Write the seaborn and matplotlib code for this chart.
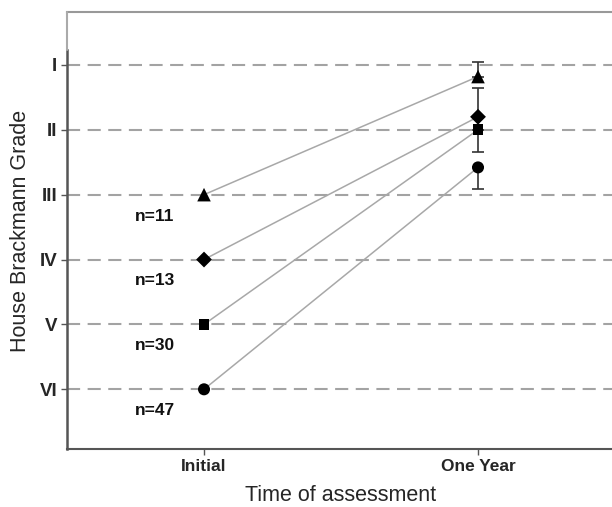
import pandas as pd
import seaborn as sns
import matplotlib.pyplot as plt

# data
times = ['Initial', 'One Year']
groups = ['n=11', 'n=13', 'n=30', 'n=47']
initial_grade = [3.0, 4.0, 5.0, 6.0]
one_year_grade = [1.18, 1.80, 2.00, 2.58]
err_better = [0.22, 0.45, 0.0, 0.0]   # towards grade I (up)
err_worse = [0.0, 0.0, 0.35, 0.34]    # towards grade VI (down)
grade_labels = ['I', 'II', 'III', 'IV', 'V', 'VI']
marker_map = {'n=11': '^', 'n=13': 'D', 'n=30': 's', 'n=47': 'o'}
marker_size = {'n=11': 95, 'n=13': 65, 'n=30': 60, 'n=47': 75}

rows = []
for g, a, b in zip(groups, initial_grade, one_year_grade):
    rows.append({'group': g, 'time': 0, 'grade': a})
    rows.append({'group': g, 'time': 1, 'grade': b})
df = pd.DataFrame(rows)

sns.set_theme(style='white')
plt.rcParams['font.family'] = ['Liberation Sans', 'DejaVu Sans']

fig = plt.figure(figsize=(6.12, 5.07), dpi=100)
ax = fig.add_axes([0.1095, 0.1144, 0.8954, 0.8619])

# connecting lines
sns.lineplot(data=df, x='time', y='grade', units='group', estimator=None,
             color='#a8a8a8', linewidth=1.1, ax=ax, zorder=2)

# error bars at one year (y axis is inverted, so "minus" points up)
ax.errorbar([1] * len(groups), one_year_grade, yerr=[err_better, err_worse],
            fmt='none', ecolor='#333333', elinewidth=1.2, capsize=4,
            capthick=1.2, zorder=3)

# markers
sns.scatterplot(data=df, x='time', y='grade', style='group', markers=marker_map,
                size='group', sizes=marker_size, color='black',
                edgecolor='black', linewidth=0, legend=False, ax=ax, zorder=4)

# n labels below the initial points
for g, a in zip(groups, initial_grade):
    ax.text(-0.18, a + 0.33, g, ha='center', va='center', fontsize=12.5,
            fontweight='bold', color='#111111')

ax.set_xlim(-0.5, 1.5)
ax.set_ylim(6.92, 0.185)
ax.set_xticks([0, 1])
ax.set_xticklabels(times, fontsize=12.5, fontweight='bold')
ax.set_yticks(range(1, 7))
ax.set_yticklabels(grade_labels, fontsize=13.5, fontweight='bold')
ax.tick_params(axis='both', direction='out', length=4, width=1,
               color='#555555', pad=3, left=True, bottom=True)

ax.yaxis.grid(True, linestyle=(0, (6.3, 3.6)), linewidth=1.5, color='#a3a3a3')
ax.set_axisbelow(True)

ax.set_xlabel('Time of assessment', fontsize=15.5, labelpad=8)
ax.set_ylabel('House Brackmann Grade', fontsize=15.5, labelpad=6)

ax.spines['right'].set_visible(False)
ax.spines['top'].set_color('#999999')
ax.spines['top'].set_linewidth(1.5)
ax.spines['bottom'].set_color('#555555')
ax.spines['bottom'].set_linewidth(1.5)
ax.spines['left'].set_color('#555555')
ax.spines['left'].set_linewidth(1.8)
ax.spines['left'].set_bounds(0.77, 6.92)
ax.plot([0, 0], [0.77, 0.185], transform=ax.get_yaxis_transform(),
        color='#aaaaaa', linewidth=1.5, clip_on=False, zorder=5)

fig.savefig('out.png', dpi=100)
